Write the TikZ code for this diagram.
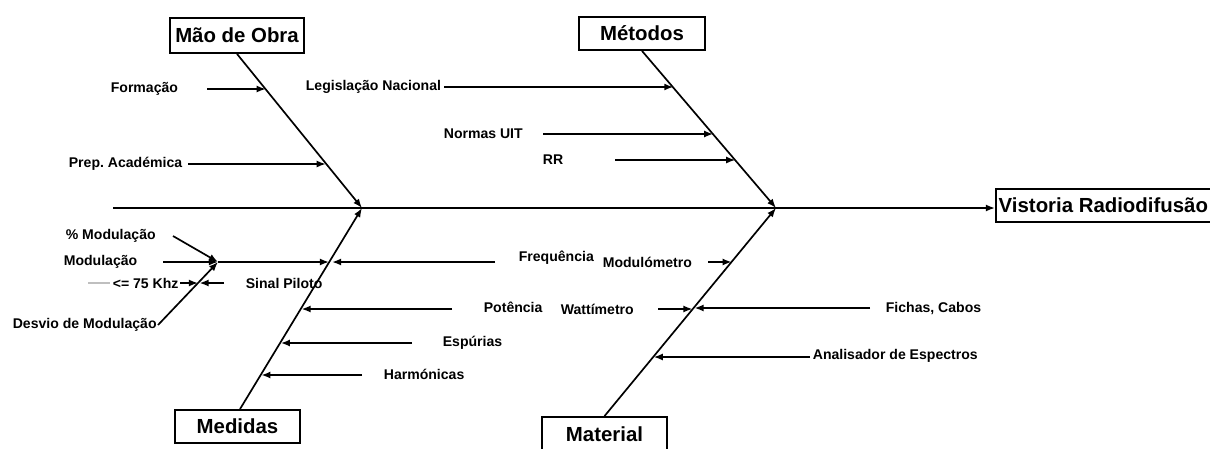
\documentclass[tikz,border=0pt]{standalone}
\usepackage{fontspec}
\setmainfont{Liberation Sans}
\usetikzlibrary{arrows.meta, positioning, calc}

\begin{document}
\frenchspacing
\begin{tikzpicture}[
    x=0.025cm, y=-0.025cm,
    >={Latex[length=6.5pt,width=5pt]},
    line width=1.2pt,
    cat/.style={draw, line width=1.3pt, inner sep=2pt,
        font=\fontsize{14.5}{16}\selectfont\bfseries},
    lbl/.style={anchor=west, inner sep=0pt, font=\fontsize{10}{12}\selectfont\bfseries}
]
\useasboundingbox (0,0) rectangle (1210,448);

% ==========================================
% 1. Category Boxes and Effect Box
% ==========================================
\node[cat, minimum width=3.35cm, minimum height=0.875cm] (MaoObra) at (237,35.5) {Mão de Obra};
\node[cat, minimum width=3.15cm, minimum height=0.825cm] (Metodos) at (642,33.5) {Métodos};
\node[cat, minimum width=3.125cm, minimum height=0.825cm] (Medidas) at (237.5,426.5) {Medidas};
\node[cat, minimum width=3.125cm, minimum height=0.875cm] (Material) at (604.5,434.5) {Material};
\node[cat, anchor=west, minimum height=0.825cm] (Vistoria) at (995,205.5) {Vistoria Radiodifusão};

% ==========================================
% 2. Spine and Main Bones
% ==========================================
\coordinate (tail) at (113,208);
\coordinate (J1) at (362,208);
\coordinate (J2) at (776,208);

\draw[->] (tail) -- (tail -| Vistoria.west);

\draw[->] (MaoObra.south) -- (J1);              % Mao de Obra bone
\draw[->] ($(Medidas.north)+(2.5,0)$) -- (J1);  % Medidas bone
\draw[->] (Metodos.south) -- (J2);              % Metodos bone
\draw[->] (Material.north) -- (J2);             % Material bone

% ==========================================
% 3. Causes (label, start of line, tip on bone)
% ==========================================
\foreach \nm/\lx/\ly/\sx/\ex/\ey/\txt in {
    form/110/89/207/265.8/89/Formação,
    prep/68/164/188/325.8/164/Prep. Académica,
    legis/305/87/444/673.4/87/Legislação Nacional,
    normas/443/134/543/713.2/134/Normas UIT,
    rr/542/160/615/735.3/160/RR,
    freq/518/258/495/332/262/Frequência,
    pot/483/307/452/301.5/309/Potência,
    esp/442/343/412/280.8/343/Espúrias,
    harm/383/374/362/261.3/375/Harmónicas,
    modm/602/262/708/731.7/262/Modulómetro,
    watt/560/309/658/692.5/309/Wattímetro,
    fich/885/308/870/694.5/308/{Fichas, Cabos},
    anal/812/356/810/653.7/357/Analisador de Espectros} {
    \node[lbl] (\nm) at (\lx,\ly) {\txt};
    \coordinate (\nm-s) at (\sx,\ey);
    \coordinate (\nm-e) at (\ex,\ey);
    \draw[->] (\nm-s) -- (\nm-e);
}

% ==========================================
% 4. Modulacao Sub-Branch
% ==========================================
\coordinate (Mj) at (218,262);
\coordinate (Mb) at (329,262);

\node[lbl] (pmod) at (65,236) {\% Modulação};
\node[lbl] (mod) at (63,262) {Modulação};
\node[lbl] (desv) at (12,325) {Desvio de Modulação};
\node[lbl] (khz) at (112,283) {<= 75 Khz};
\node[lbl] (sinal) at (245,283) {Sinal Piloto};

\coordinate (pmod-s) at (173,236);
\coordinate (mod-s) at (163,262);
\coordinate (desv-s) at (158,325);

\draw[->] (pmod-s) -- (Mj);
\draw[->] (mod-s) -- (Mj);
\draw[->] (desv-s) -- (Mj);
\draw[->] (Mj) -- (Mb);                       % Modulacao to Medidas bone

\coordinate (khz-s) at (180,283);
\coordinate (sinal-s) at (224,283);
\draw[->] (khz-s) -- (198,283);               % to Desvio line
\draw[->] (sinal-s) -- (199.5,283);

\draw[gray!50, line width=1.2pt] (88,283) -- (110,283); % faded stub
\end{tikzpicture}
\end{document}
